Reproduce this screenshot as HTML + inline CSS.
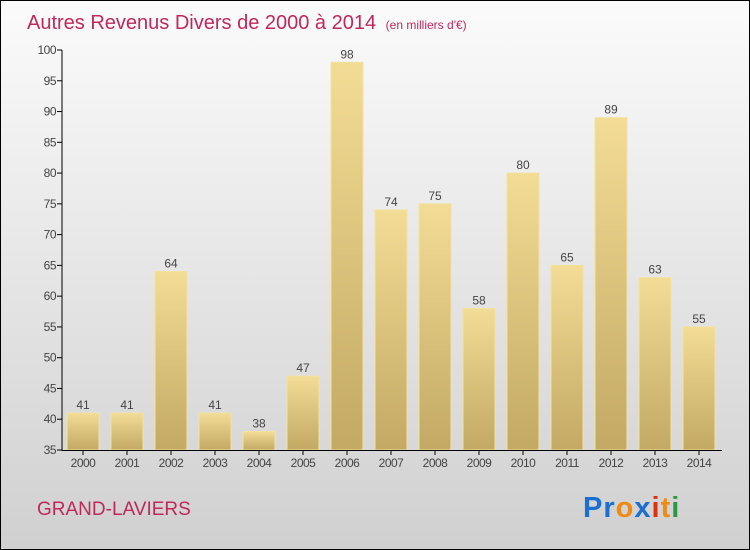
<!DOCTYPE html>
<html><head><meta charset="utf-8"><style>
body{margin:0}
#c{width:750px;height:550px;position:relative;box-sizing:border-box;border:1px solid #000;background:linear-gradient(#fbfbfb,#d0d0d0);font-family:"Liberation Sans",sans-serif;overflow:hidden}
</style></head><body>
<div id="c">
<svg width="748" height="548" xmlns="http://www.w3.org/2000/svg">
<defs><linearGradient id="g" x1="0" y1="0" x2="0" y2="1"><stop offset="0" stop-color="#f3dc95"/><stop offset="1" stop-color="#c3a963"/></linearGradient></defs>
<text x="26" y="28" font-size="20" fill="#c0285a">Autres Revenus Divers de 2000 à 2014 <tspan font-size="12" dx="4">(en milliers d'€)</tspan></text>
<g id="plot"></g>
<text x="36" y="514" font-size="19" fill="#c0285a">GRAND-LAVIERS</text>
<text x="582" y="516" font-size="29" font-weight="bold" letter-spacing="1"><tspan fill="#1a6fd0">Pr</tspan><tspan fill="#f08a10">o</tspan><tspan fill="#1a6fd0">x</tspan><tspan fill="#e03010">i</tspan><tspan fill="#f08a10">t</tspan><tspan fill="#2a9a40">i</tspan></text>
</svg>
</div>
<script>
const years=["2000","2001","2002","2003","2004","2005","2006","2007","2008","2009","2010","2011","2012","2013","2014"];
const values=[41,41,64,41,38,47,98,74,75,58,80,65,89,63,55];
const yTicks=[35,40,45,50,55,60,65,70,75,80,85,90,95,100];
const ns="http://www.w3.org/2000/svg";
const p=document.getElementById('plot');
const y=v=>449-(v-35)*400/65;
const x=i=>82+i*44;
function mk(t,a){const e=document.createElementNS(ns,t);for(const k in a)e.setAttribute(k,a[k]);p.appendChild(e);return e;}
yTicks.forEach(t=>{
const l=mk('line',{x1:56,x2:61,y1:y(t),y2:y(t),stroke:'#000'});


const tx=mk('text',{x:55,y:y(t)+4,'font-size':12,fill:'#444','text-anchor':'end','letter-spacing':'-0.5'});
tx.textContent=t;


});
values.forEach((v,i)=>{
const r=mk('rect',{x:x(i)-16,y:y(v),width:32,height:449-y(v),fill:'url(#g)',stroke:'#f3e29e','stroke-width':1});


const t=mk('text',{x:x(i),y:y(v)-4,'font-size':12,fill:'#444','text-anchor':'middle'});
t.textContent=v;


const tk=mk('line',{x1:x(i),x2:x(i),y1:449,y2:454,stroke:'#000'});


const xl=mk('text',{x:x(i),y:466,'font-size':12,fill:'#444','text-anchor':'middle','letter-spacing':'-0.5'});
xl.textContent=years[i];


});
const ya=mk('line',{x1:61,x2:61,y1:y(100),y2:450,stroke:'#000'});


const xa=mk('line',{x1:61,x2:721,y1:449.5,y2:449.5,stroke:'#000'});


</script>
</body></html>
